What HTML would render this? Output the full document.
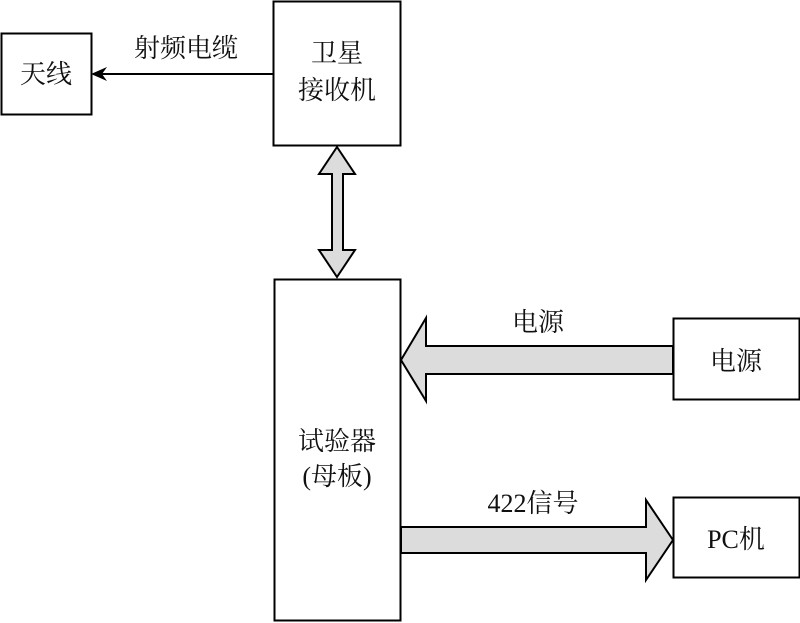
<!DOCTYPE html>
<html><head><meta charset="utf-8"><style>
html,body{margin:0;padding:0;background:#fff;}
svg{display:block;}
text{font-family:"Liberation Serif","Noto Serif CJK SC","Noto Sans CJK SC",serif;font-size:26px;fill:#111;}
</style></head><body>
<svg width="800" height="623" viewBox="0 0 800 623" xmlns="http://www.w3.org/2000/svg">
<g fill="#fff" stroke="#000" stroke-width="2">
<rect x="1.5" y="33.5" width="90" height="81"/>
<rect x="273.5" y="1.5" width="127" height="144"/>
<rect x="274.5" y="279.5" width="126" height="341"/>
<rect x="673.5" y="318.5" width="126" height="81"/>
<rect x="673.5" y="497.5" width="126" height="80"/>
</g>
<line x1="273" y1="74" x2="96" y2="74" stroke="#000" stroke-width="2"/>
<polygon points="91,74 107,67 102,74 107,81" fill="#000"/>
<g fill="#dcdcdc" stroke="#000" stroke-width="2" stroke-linejoin="miter">
<polygon points="337,147 355,174 343,174 343,250 355,250 337,277 319,250 332,250 332,174 319,174"/>
<polygon points="401,360 426,318 426,346 673,346 673,374 426,374 426,401"/>
<polygon points="673,540 646,500 646,527 401,527 401,553 646,553 646,580"/>
</g>
<text x="186" y="57" text-anchor="middle">射频电缆</text>
<text x="46" y="83" text-anchor="middle">天线</text>
<text x="337" y="62" text-anchor="middle">卫星</text>
<text x="337" y="99" text-anchor="middle">接收机</text>
<text x="337" y="450" text-anchor="middle">试验器</text>
<text x="337" y="485" text-anchor="middle">(母板)</text>
<text x="538" y="331" text-anchor="middle">电源</text>
<text x="736" y="370" text-anchor="middle">电源</text>
<text x="533" y="512" text-anchor="middle">422信号</text>
<text x="736" y="548" text-anchor="middle">PC机</text>
</svg>
</body></html>
